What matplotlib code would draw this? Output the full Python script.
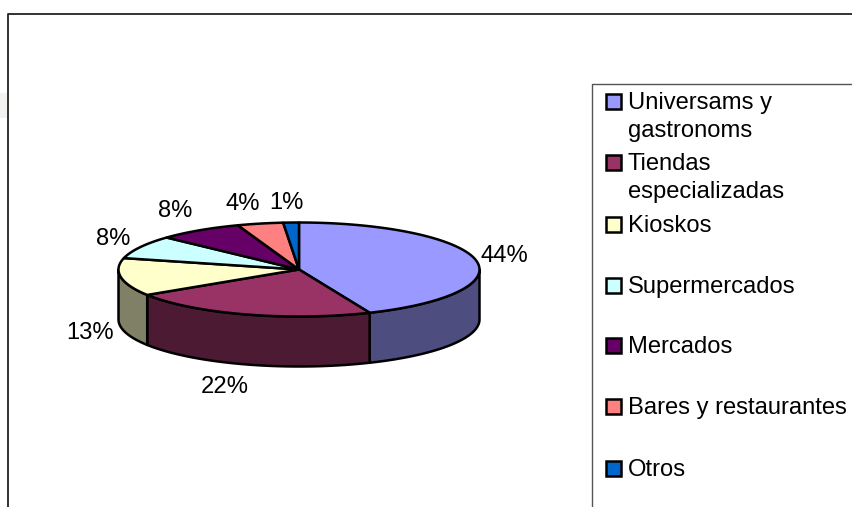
import numpy as np
import matplotlib
matplotlib.use('Agg')
import matplotlib.pyplot as plt
from matplotlib.colors import to_rgb
from matplotlib.patches import Polygon, Rectangle

plt.rcParams['font.family'] = ['Liberation Sans', 'DejaVu Sans']

# datos del grafico
categorias = ['Universams y\ngastronoms', 'Tiendas\nespecializadas', 'Kioskos',
              'Supermercados', 'Mercados', 'Bares y restaurantes', 'Otros']
valores = [43.6, 22.3, 13.0, 8.0, 7.6, 4.1, 1.4]
colores = ['#9999FF', '#993366', '#FFFFCC', '#CCFFFF', '#660066', '#FF8080', '#0066CC']

# geometria en pixeles
W, H = 852, 507
CX, CY, RX, RY, PROF = 299, 269.5, 180.5, 47, 50
LW = 1.8
FS = 17.15
# desplazamiento de cada etiqueta respecto al borde de su porcion
desp_etiquetas = [(29, -4), (-21, 23), (-31, 6), (-27, -8), (-24, -19), (-17, -20), (-5, -20)]
y_leyenda = [101, 162, 224, 285, 345, 406, 468]

fig = plt.figure(figsize=(W / 100, H / 100), dpi=100)
ax = fig.add_axes([0, 0, 1, 1])
ax.set_xlim(0, W)
ax.set_ylim(H, 0)
ax.axis('off')


def elipse(t, dy=0):
    return np.column_stack([CX + RX * np.sin(t), CY - RY * np.cos(t) + dy])


# marcos
ax.add_patch(Rectangle((0, 93), 7, 25, fc='#f4f1f1', ec='none'))
ax.plot([8, 8, W], [H, 14.2, 14.2], color='#222222', lw=1.3)
ax.plot([591.5, 591.5, W], [H, 83.5, 83.5], color='#555555', lw=1.0)

limites = np.cumsum([0] + valores) / sum(valores) * 2 * np.pi

# costados (solo la mitad delantera se ve)
for i, color in enumerate(colores):
    a = max(limites[i], np.pi / 2)
    b = min(limites[i + 1], 3 * np.pi / 2)
    if a >= b:
        continue
    t = np.linspace(a, b, 80)
    pts = np.vstack([elipse(t), elipse(t[::-1], PROF)])
    oscuro = tuple(c * 0.5 for c in to_rgb(color))
    ax.add_patch(Polygon(pts, closed=True, fc=oscuro, ec='black', lw=LW, joinstyle='round'))

# tapa
for i, color in enumerate(colores):
    t = np.linspace(limites[i], limites[i + 1], 120)
    pts = np.vstack([[CX, CY], elipse(t)])
    ax.add_patch(Polygon(pts, closed=True, fc=color, ec='black', lw=LW, joinstyle='round'))

# etiquetas de porcentaje
for i, v in enumerate(valores):
    medio = (limites[i] + limites[i + 1]) / 2
    x, y = elipse(np.array([medio]))[0]
    if np.cos(medio) < 0 or i == 2:
        y += PROF
    dx, dy = desp_etiquetas[i]
    ax.text(x + dx, y + dy, '{:.0f}%'.format(v), fontsize=FS, color='black',
            ha='center', va='center')

# leyenda
for nombre, color, y in zip(categorias, colores, y_leyenda):
    ax.add_patch(Rectangle((606, y - 7.5), 15, 15, fc=color, ec='black', lw=LW))
    for j, linea in enumerate(nombre.split('\n')):
        ax.text(628, y + 8 + j * 28, linea, fontsize=FS, color='black', ha='left', va='baseline')

fig.savefig('out.png', dpi=100)
